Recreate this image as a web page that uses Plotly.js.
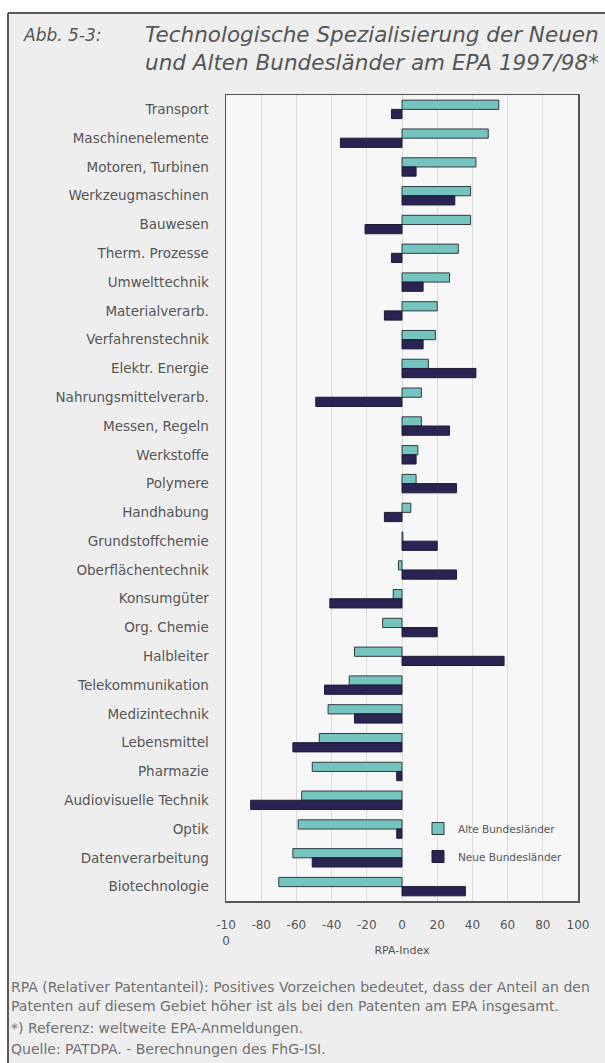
<!DOCTYPE html>
<html>
<head>
<meta charset="utf-8">
<script src="https://cdn.plot.ly/plotly-3.0.1.min.js"></script>
<style>html,body{margin:0;padding:0;background:#fff;}#chart{width:605px;height:1063px;}</style>
</head>
<body>
<div id="chart"></div>
<script>
// ---- data ----
const categories = [
  "Transport", "Maschinenelemente", "Motoren, Turbinen", "Werkzeugmaschinen",
  "Bauwesen", "Therm. Prozesse", "Umwelttechnik", "Materialverarb.",
  "Verfahrenstechnik", "Elektr. Energie", "Nahrungsmittelverarb.", "Messen, Regeln",
  "Werkstoffe", "Polymere", "Handhabung", "Grundstoffchemie",
  "Oberflächentechnik", "Konsumgüter", "Org. Chemie", "Halbleiter",
  "Telekommunikation", "Medizintechnik", "Lebensmittel", "Pharmazie",
  "Audiovisuelle Technik", "Optik", "Datenverarbeitung", "Biotechnologie"
];
const alteBundeslaender = [55, 49, 42, 39, 39, 32, 27, 20, 19, 15, 11, 11, 9, 8, 5, 0.5, -2, -5, -11, -27, -30, -42, -47, -51, -57, -59, -62, -70];
const neueBundeslaender = [-6, -35, 8, 30, -21, -6, 12, -10, 12, 42, -49, 27, 8, 31, -10, 20, 31, -41, 20, 58, -44, -27, -62, -3, -86, -3, -51, 36];
const seriesNames = ["Alte Bundesländer", "Neue Bundesländer"];
const tickValues = [-100, -80, -60, -40, -20, 0, 20, 40, 60, 80, 100];
const tickLabels = ["-10<br>0", "-80", "-60", "-40", "-20", "0", "20", "40", "60", "80", "100"];
const figLabel = "Abb. 5-3:";
const titleText = "Technologische Spezialisierung der Neuen<br>und Alten Bundesländer am EPA 1997/98*";
const xTitle = "RPA-Index";
const notes = [
  "RPA (Relativer Patentanteil): Positives Vorzeichen bedeutet, dass der Anteil an den",
  "Patenten auf diesem Gebiet höher ist als bei den Patenten am EPA insgesamt.",
  "*) Referenz: weltweite EPA-Anmeldungen.",
  "Quelle: PATDPA. - Berechnungen des FhG-ISI."
];

// ---- layout helpers ----
const W = 605, H = 1063;
const M = {l: 226, r: 27, t: 95, b: 162};
const pw = W - M.l - M.r, ph = H - M.t - M.b;
const px = x => (x - M.l) / pw;
const py = y => (H - M.b - y) / ph;
const FONT = "DejaVu Sans, Arial, sans-serif";

const traces = [
  {type: "bar", orientation: "h", name: seriesNames[0], legendgroup: "a", y: categories, x: alteBundeslaender,
   marker: {color: "#76c4bf", line: {color: "#2e3c40", width: 1}}},
  {type: "bar", orientation: "h", name: seriesNames[1], legendgroup: "n", y: categories, x: neueBundeslaender,
   marker: {color: "#2a2452", line: {color: "#1e1a38", width: 1}}}
];

const noteY = [987, 1006, 1028, 1049];
const annotations = [
  {text: figLabel, xref: "paper", yref: "paper", x: px(21), y: py(35), xanchor: "left", yanchor: "middle",
   showarrow: false, font: {family: FONT, size: 17, color: "#555", style: "italic"}}
].concat(notes.map((t, i) => ({
  text: t, xref: "paper", yref: "paper", x: px(9), y: py(noteY[i]), xanchor: "left", yanchor: "middle",
  showarrow: false, font: {family: FONT, size: 14, color: "#707070"}
})));

const shapes = [
  {type: "rect", xref: "paper", yref: "paper", x0: px(0), x1: px(W), y0: py(0), y1: py(13), fillcolor: "#ffffff", line: {width: 0}, layer: "below"},
  {type: "rect", xref: "paper", yref: "paper", x0: px(0), x1: px(8), y0: py(0), y1: py(H), fillcolor: "#ffffff", line: {width: 0}, layer: "below"},
  {type: "line", xref: "paper", yref: "paper", x0: px(8), x1: px(W), y0: py(13), y1: py(13), line: {color: "#5a5a5a", width: 2}},
  {type: "line", xref: "paper", yref: "paper", x0: px(8), x1: px(8), y0: py(13), y1: py(H), line: {color: "#5a5a5a", width: 2}}
];

const layout = {
  width: W, height: H,
  margin: M,
  paper_bgcolor: "#eeeeee",
  plot_bgcolor: "#f7f7f8",
  barmode: "group",
  bargap: 0.36,
  bargroupgap: 0,
  showlegend: true,
  legend: {x: px(418), y: py(814), xanchor: "left", yanchor: "top", bgcolor: "rgba(0,0,0,0)",
           traceorder: "grouped", tracegroupgap: 9,
           font: {family: FONT, size: 10.5, color: "#555"}},
  title: {text: titleText, x: 145 / W, xanchor: "left", xref: "container", y: 1 - 42 / H, yanchor: "top", yref: "container",
          font: {family: FONT, size: 21.5, color: "#555", style: "italic"}},
  xaxis: {
    range: [-100, 100], tickvals: tickValues, ticktext: tickLabels,
    showgrid: true, gridcolor: "#dcdcdc", gridwidth: 1, zeroline: false,
    ticks: "outside", ticklen: 12, tickcolor: "rgba(0,0,0,0)",
    showline: true, linecolor: "#555", linewidth: 1.5, mirror: true,
    tickfont: {family: FONT, size: 12, color: "#555"},
    title: {text: xTitle, standoff: 0, font: {family: FONT, size: 11, color: "#555"}},
    fixedrange: true
  },
  yaxis: {
    autorange: "reversed", type: "category",
    showgrid: false, zeroline: false,
    ticks: "outside", ticklen: 13, tickcolor: "rgba(0,0,0,0)",
    showline: true, linecolor: "#555", linewidth: 1.5, mirror: true,
    tickfont: {family: FONT, size: 13.5, color: "#555"},
    fixedrange: true
  },
  annotations: annotations,
  shapes: shapes
};

Plotly.newPlot("chart", traces, layout, {staticPlot: true, displayModeBar: false});
</script>
</body>
</html>
